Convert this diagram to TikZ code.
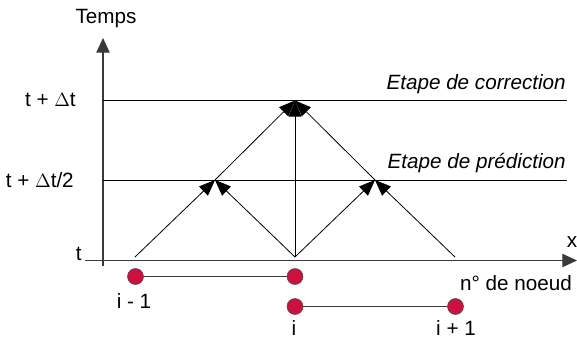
\documentclass[tikz,border=0pt]{standalone}
\usepackage{fontspec}
\setmainfont{Liberation Sans}
\usetikzlibrary{arrows.meta,positioning}
\definecolor{NodeRed}{HTML}{CC1040}
\definecolor{AxisGrey}{HTML}{3A3A3A}
\tikzset{
  % Axis with filled tip
  axe/.style={
    -{Triangle[length=11pt,width=10pt]},
    line width=0.9pt, color=AxisGrey
  },
  % Time level line
  niveau/.style={line width=0.7pt, color=black},
  % Characteristic arrow
  fleche/.style={
    -{Triangle[length=12pt,width=9.5pt]},
    line width=0.6pt, color=black
  },
  % Mesh node
  noeud/.style={
    circle, draw=black!70, line width=0.4pt,
    fill=NodeRed, minimum size=12pt, inner sep=0pt
  },
  % Element segment
  seg/.style={line width=0.7pt, color=AxisGrey},
  % Text labels
  lbl/.style={font=\fontsize{15.5}{17}\selectfont, inner sep=0pt},
  etape/.style={font=\fontsize{15.5}{17}\selectfont\itshape, inner sep=0pt, anchor=base east}
}

\begin{document}
\begin{tikzpicture}[x=0.75pt, y=-0.75pt]
  \useasboundingbox (0,0) rectangle (577,340);

  % axes
  \coordinate (oy) at (103,266);
  \coordinate (ey) at (103,38);
  \coordinate (ox) at (85,260.5);
  \coordinate (ex) at (577,260.5);
  \draw[axe] (oy) -- (ey);
  \draw[axe] (ox) -- (ex);
  \node[lbl] (temps) at (106,19) {Temps};
  \node[lbl] (xlab)  at (572,242) {x};
  \node[lbl, anchor=east] (tlab) at (82,254) {t};

  % time levels
  \coordinate (l1a) at (103,180);
  \coordinate (l1b) at (567,180);
  \coordinate (l2a) at (103,100.5);
  \coordinate (l2b) at (567,100.5);
  \draw[niveau] (l1a) -- (l1b);
  \draw[niveau] (l2a) -- (l2b);
  \node[lbl, anchor=east] (tdt)  at (76,100) {t + $\Delta$t};
  \node[lbl, anchor=east] (tdt2) at (74,180) {t + $\Delta$t/2};
  \node[etape] (corr) at (566,89)  {Etape de correction};
  \node[etape] (pred) at (566,168) {Etape de prédiction};

  % characteristics
  \coordinate (b1)  at (135,257);
  \coordinate (b2)  at (295,257);
  \coordinate (b3)  at (455,257);
  \coordinate (m1)  at (215,180);
  \coordinate (m2)  at (375,180);
  \coordinate (top) at (295,100.5);
  \draw[fleche] (b1) -- (m1);
  \draw[fleche] (b2) -- (m1);
  \draw[fleche] (b2) -- (m2);
  \draw[fleche] (b3) -- (m2);
  \draw[fleche] (b2) -- (top);
  \draw[fleche] (m1) -- (top);
  \draw[fleche] (m2) -- (top);

  % elements
  \node[noeud] (ni1) at (135.5,276.5) {};
  \node[noeud] (ni)  at (295,276.5) {};
  \node[noeud] (nj)  at (295,306.5) {};
  \node[noeud] (nj1) at (455.5,306.5) {};
  \draw[seg] (ni1) -- (ni);
  \draw[seg] (nj) -- (nj1);
  \node[lbl] (li1) at (134,301) {i - 1};
  \node[lbl] (li)  at (294,328) {i};
  \node[lbl] (lj1) at (456,328) {i + 1};
  \node[lbl] (num) at (516,283) {n° de noeud};
\end{tikzpicture}
\end{document}
